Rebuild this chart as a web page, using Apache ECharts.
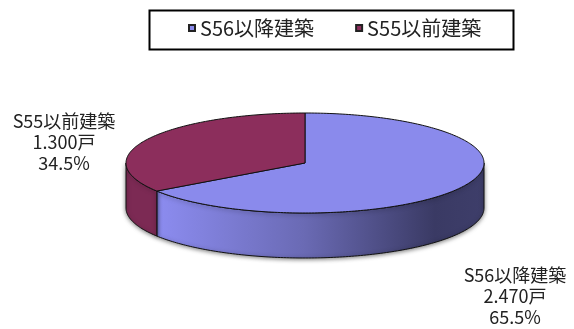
<!DOCTYPE html>
<html>
<head>
<meta charset="utf-8">
<script src="https://cdn.jsdelivr.net/npm/echarts@6/dist/echarts.min.js"></script>
<style>
html,body{margin:0;padding:0;background:#fff;}
#main{width:574px;height:329px;}
</style>
</head>
<body>
<div id="main"></div>
<script>
// ---- data ----
const categories = ['S56以降建築', 'S55以前建築'];
const counts = [2470, 1300];
const countLabels = ['2.470戸', '1.300戸'];
const percentLabels = ['65.5%', '34.5%'];

// ---- styles / layout ----
const topColors = ['#8a8aec', '#8c2e5c'];
const sideColors = [
  {type: 'linear', x: 157, y: 0, x2: 484, y2: 0, global: true,
   colorStops: [{offset: 0, color: '#8c8cf0'}, {offset: 0.45, color: '#6a6ab4'}, {offset: 0.85, color: '#3a3a64'}, {offset: 1, color: '#3e3e6a'}]},
  '#7c2a54'
];
const labelPos = [[515, 296], [64, 142]];
const CX = 305, CY = 163, RX = 179, RY = 50, DEPTH = 45;
const FONT = '"Noto Sans CJK JP", "Noto Sans CJK SC", sans-serif';

const total = counts.reduce((a, b) => a + b, 0);
function pt(deg, dy) {
  const r = deg * Math.PI / 180;
  return [CX + RX * Math.sin(r), CY - RY * Math.cos(r) + (dy || 0)];
}
function arc(a, b, dy) {
  const pts = [];
  const n = Math.max(2, Math.ceil(Math.abs(b - a) / 1));
  for (let i = 0; i <= n; i++) pts.push(pt(a + (b - a) * i / n, dy));
  return pts;
}

function makeRender(idx) {
  return function (params, api) {
    let start = 0;
    for (let i = 0; i < idx; i++) start += counts[i] / total * 360;
    const end = start + api.value(0) / total * 360;
    const children = [];
    const sa = Math.max(start, 90), sb = Math.min(end, 270);
    if (sb > sa) {
      const topArc = arc(sa, sb, 0);
      const botArc = arc(sb, sa, DEPTH);
      children.push({
        type: 'polygon',
        shape: {points: topArc.concat(botArc)},
        style: {fill: sideColors[idx], stroke: '#111', lineWidth: 1, shadowBlur: 4, shadowColor: 'rgba(0,0,0,0.5)', shadowOffsetY: 1}
      });
    }
    children.push({
      type: 'polygon',
      shape: {points: [[CX, CY]].concat(arc(start, end, 0))},
      style: {fill: topColors[idx], stroke: '#111', lineWidth: 1}
    });
    children.push({
      type: 'text',
      style: {
        text: categories[idx] + '\n' + countLabels[idx] + '\n' + percentLabels[idx],
        x: labelPos[idx][0], y: labelPos[idx][1],
        align: 'center', verticalAlign: 'middle',
        font: '18px ' + FONT, lineHeight: 21, fill: '#222'
      }
    });
    return {type: 'group', children: children};
  };
}

const chart = echarts.init(document.getElementById('main'), null, {renderer: 'canvas'});
chart.setOption({
  animation: false,
  backgroundColor: '#fff',
  graphic: [{
    type: 'rect', left: 147, top: 8,
    shape: {width: 364, height: 39},
    style: {fill: 'none', stroke: '#000', lineWidth: 2}
  }],
  legend: {
    left: 188, top: 17, padding: 0,
    itemWidth: 6, itemHeight: 6, itemGap: 41, icon: 'rect',
    data: categories,
    textStyle: {fontSize: 20, fontFamily: FONT, color: '#222', lineHeight: 22}
  },
  series: categories.map((name, i) => ({
    type: 'custom',
    name: name,
    coordinateSystem: 'none',
    itemStyle: {color: topColors[i], borderColor: '#222', borderWidth: 1},
    renderItem: makeRender(i),
    data: [[counts[i]]]
  }))
});
</script>
</body>
</html>
